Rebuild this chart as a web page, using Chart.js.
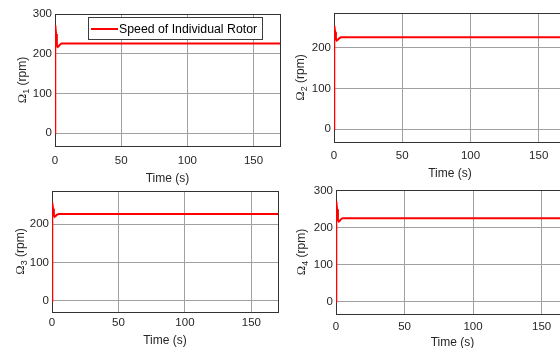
<!DOCTYPE html>
<html><head><meta charset="utf-8">
<script src="https://cdn.jsdelivr.net/npm/chart.js@4.4.0/dist/chart.umd.min.js"></script>
<style>
html,body{margin:0;padding:0;background:#fff;width:560px;height:348px;overflow:hidden;position:relative}
canvas{position:absolute}
</style></head><body>
<script>
// ---- data ----
const time   = [0, 0.1, 0.3, 0.8, 1.4, 2.0, 2.8, 3.6, 5, 170];
const rotor1 = [0, 200, 272, 250, 222, 217, 219, 223, 226, 226];
const rotor2 = [0, 190, 255, 240, 222, 218, 220, 223, 226, 226];
const rotor3 = [0, 190, 256, 240, 223, 219, 221, 224, 226, 226];
const rotor4 = [0, 200, 272, 250, 222, 217, 219, 223, 226, 226];
const xTicks = [0, 50, 100, 150];
const yTicks = [0, 100, 200, 300];
const seriesLabel = 'Speed of Individual Rotor';
const xTitle = 'Time (s)';
const ySymbol = 'Ω';
const yUnit = ' (rpm)';

const TXT = '#262626';
const GRID = '#a0a0a0';
const BOX = '#333333';
const SANS = '"Liberation Sans", Arial, sans-serif';

const panels = [
  {values: rotor1, sub: '1', L: 55,  T: 14,  R: 280, B: 146, yMin: -32, yMax: 300, tickPad: 8, xTitleDy: 36, yTitleDx: 33, legend: true},
  {values: rotor2, sub: '2', L: 334, T: 13,  R: 566, B: 142, yMin: -32, yMax: 286, tickPad: 7, xTitleDy: 34.5, yTitleDx: 34},
  {values: rotor3, sub: '3', L: 52,  T: 191, R: 278, B: 312, yMin: -29, yMax: 286, tickPad: 4, xTitleDy: 32, yTitleDx: 32},
  {values: rotor4, sub: '4', L: 336, T: 190, R: 569, B: 314, yMin: -33, yMax: 302, tickPad: 6, xTitleDy: 31.5, yTitleDx: 35}
];

const padL = 56, padT = 12, padR = 12, padB = 40;

panels.forEach((p) => {
  const cv = document.createElement('canvas');
  const w = (p.R - p.L) + padL + padR;
  const h = (p.B - p.T) + padT + padB;
  cv.width = w; cv.height = h;
  cv.style.left = (p.L - padL) + 'px';
  cv.style.top = (p.T - padT) + 'px';
  cv.style.width = w + 'px'; cv.style.height = h + 'px';
  document.body.appendChild(cv);

  const deco = {
    id: 'deco',
    beforeDatasetsDraw(chart) {
      const a = chart.chartArea, c = chart.ctx;
      c.save();
      c.strokeStyle = BOX; c.lineWidth = 1;
      c.strokeRect(Math.round(a.left) + 0.5, Math.round(a.top) + 0.5,
                   Math.round(a.right - a.left), Math.round(a.bottom - a.top));
      c.restore();
    },
    afterDraw(chart) {
      const a = chart.chartArea, c = chart.ctx;
      c.save();
      c.fillStyle = TXT;
      // x title
      c.font = '12px ' + SANS;
      c.textAlign = 'center'; c.textBaseline = 'alphabetic';
      c.fillText(xTitle, (a.left + a.right) / 2, a.bottom + p.xTitleDy);
      // y title (rotated) with subscript
      const cx = a.left - p.yTitleDx, cy = (a.top + a.bottom) / 2;
      c.translate(cx, cy); c.rotate(-Math.PI / 2);
      c.textAlign = 'left';
      c.font = '12.5px "Liberation Serif", "Times New Roman", serif';
      const wO = c.measureText(ySymbol).width;
      c.font = '9px ' + SANS;
      const wS = c.measureText(p.sub).width;
      c.font = '12px ' + SANS;
      const wU = c.measureText(yUnit).width;
      let x0 = -(wO + wS + wU) / 2;
      const base = 3.5;
      c.font = '12.5px "Liberation Serif", "Times New Roman", serif';
      c.fillText(ySymbol, x0, base); x0 += wO;
      c.font = '9px ' + SANS;
      c.fillText(p.sub, x0, base + 3); x0 += wS;
      c.font = '12px ' + SANS;
      c.fillText(yUnit, x0, base);
      c.restore();

      if (p.legend) {
        const ox = p.L - padL, oy = p.T - padT; // page -> canvas offset
        const bx = 88 - ox, by = 17 - oy, bw = 175, bh = 23;
        c.save();
        c.fillStyle = '#ffffff';
        c.fillRect(bx, by, bw, bh);
        c.strokeStyle = '#3c3c3c'; c.lineWidth = 1;
        c.strokeRect(bx + 0.5, by + 0.5, bw - 1, bh - 1);
        const ds = chart.data.datasets[0];
        c.strokeStyle = ds.borderColor; c.lineWidth = 2;
        c.beginPath(); c.moveTo(bx + 3, by + 12); c.lineTo(bx + 30, by + 12); c.stroke();
        c.fillStyle = '#000000';
        c.font = '12.3px ' + SANS;
        c.textAlign = 'left'; c.textBaseline = 'middle';
        c.fillText(ds.label, bx + 31, by + 12.5);
        c.restore();
      }
    }
  };

  new Chart(cv, {
    type: 'line',
    data: {
      datasets: [{
        label: seriesLabel,
        data: time.map((t, i) => ({x: t, y: p.values[i]})),
        borderColor: '#ff0000',
        borderWidth: 2,
        pointRadius: 0,
        tension: 0,
        fill: false
      }]
    },
    options: {
      responsive: false,
      animation: false,
      devicePixelRatio: 1,
      layout: {padding: {left: 0, top: padT, right: padR, bottom: 0}},
      plugins: {legend: {display: false}, tooltip: {enabled: false}},
      scales: {
        x: {
          type: 'linear', min: 0, max: 170,
          afterFit: (s) => { s.height = padB; },
          afterBuildTicks: (s) => { s.ticks = xTicks.map(v => ({value: v})); },
          grid: {color: GRID, lineWidth: 1, drawTicks: false},
          border: {display: false},
          ticks: {autoSkip: false, maxRotation: 0, padding: p.tickPad, color: TXT, font: {family: SANS, size: 11.5}}
        },
        y: {
          type: 'linear', min: p.yMin, max: p.yMax,
          afterFit: (s) => { s.width = padL; },
          afterBuildTicks: (s) => { s.ticks = yTicks.filter(v => v >= p.yMin && v <= p.yMax).map(v => ({value: v})); },
          grid: {color: GRID, lineWidth: 1, drawTicks: false},
          border: {display: false},
          ticks: {autoSkip: false, padding: 3, color: TXT, font: {family: SANS, size: 11.5}}
        }
      }
    },
    plugins: [deco]
  });
});
</script>
</body></html>
